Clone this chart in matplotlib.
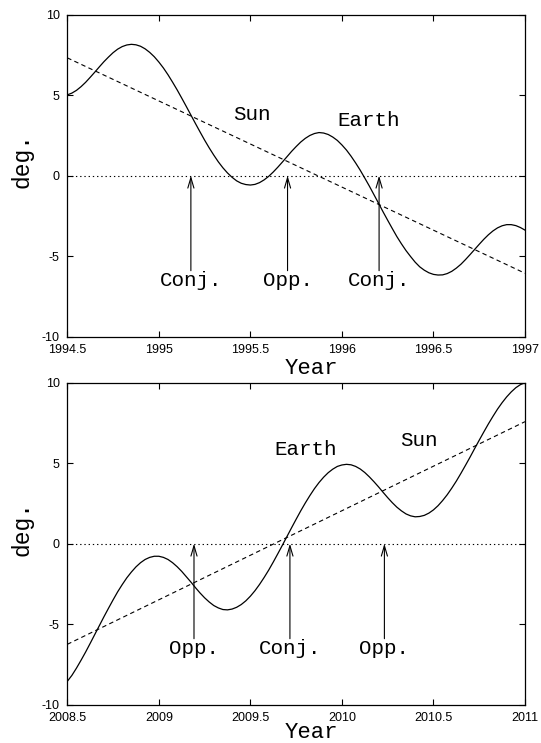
import matplotlib
matplotlib.use("Agg")
import matplotlib.pyplot as plt

# ---------------- data ----------------
top_years = [1994.500, 1994.525, 1994.550, 1994.575, 1994.600, 1994.625, 1994.650, 1994.675, 1994.700, 1994.725,
             1994.750, 1994.775, 1994.800, 1994.825, 1994.850, 1994.875, 1994.900, 1994.925, 1994.950, 1994.975,
             1995.000, 1995.025, 1995.050, 1995.075, 1995.100, 1995.125, 1995.150, 1995.175, 1995.200, 1995.225,
             1995.250, 1995.275, 1995.300, 1995.325, 1995.350, 1995.375, 1995.400, 1995.425, 1995.450, 1995.475,
             1995.500, 1995.525, 1995.550, 1995.575, 1995.600, 1995.625, 1995.650, 1995.675, 1995.700, 1995.725,
             1995.750, 1995.775, 1995.800, 1995.825, 1995.850, 1995.875, 1995.900, 1995.925, 1995.950, 1995.975,
             1996.000, 1996.025, 1996.050, 1996.075, 1996.100, 1996.125, 1996.150, 1996.175, 1996.200, 1996.225,
             1996.250, 1996.275, 1996.300, 1996.325, 1996.350, 1996.375, 1996.400, 1996.425, 1996.450, 1996.475,
             1996.500, 1996.525, 1996.550, 1996.575, 1996.600, 1996.625, 1996.650, 1996.675, 1996.700, 1996.725,
             1996.750, 1996.775, 1996.800, 1996.825, 1996.850, 1996.875, 1996.900, 1996.925, 1996.950, 1996.975,
             1997.000]
top_values = [5.02, 5.13, 5.30, 5.53, 5.80, 6.11, 6.43, 6.76, 7.08, 7.37,
              7.64, 7.86, 8.02, 8.12, 8.16, 8.13, 8.04, 7.88, 7.66, 7.39,
              7.06, 6.69, 6.27, 5.81, 5.33, 4.82, 4.30, 3.77, 3.24, 2.72,
              2.21, 1.73, 1.28, 0.86, 0.49, 0.17, -0.10, -0.32, -0.47, -0.55,
              -0.58, -0.54, -0.43, -0.26, -0.04, 0.23, 0.53, 0.85, 1.18, 1.51,
              1.81, 2.09, 2.32, 2.50, 2.62, 2.68, 2.65, 2.56, 2.40, 2.19,
              1.91, 1.59, 1.21, 0.79, 0.34, -0.15, -0.65, -1.18, -1.71, -2.25,
              -2.77, -3.28, -3.78, -4.23, -4.65, -5.02, -5.37, -5.66, -5.87, -6.03,
              -6.13, -6.17, -6.16, -6.08, -5.94, -5.74, -5.50, -5.21, -4.90, -4.58,
              -4.26, -3.95, -3.67, -3.43, -3.24, -3.11, -3.04, -3.04, -3.10, -3.22,
              -3.38]
top_trend_years = [1994.5, 1997.0]
top_trend_values = [7.32, -6.06]
top_event_years = [1995.175, 1995.703, 1996.203]
top_event_labels = ["Conj.", "Opp.", "Conj."]
top_body_years = [1995.511, 1996.146]
top_body_values = [3.44, 3.07]
top_body_labels = ["Sun", "Earth"]
top_xticks = [1994.5, 1995.0, 1995.5, 1996.0, 1996.5, 1997.0]
top_xticklabels = ["1994.5", "1995", "1995.5", "1996", "1996.5", "1997"]

bot_years = [2008.500, 2008.525, 2008.550, 2008.575, 2008.600, 2008.625, 2008.650, 2008.675, 2008.700, 2008.725,
             2008.750, 2008.775, 2008.800, 2008.825, 2008.850, 2008.875, 2008.900, 2008.925, 2008.950, 2008.975,
             2009.000, 2009.025, 2009.050, 2009.075, 2009.100, 2009.125, 2009.150, 2009.175, 2009.200, 2009.225,
             2009.250, 2009.275, 2009.300, 2009.325, 2009.350, 2009.375, 2009.400, 2009.425, 2009.450, 2009.475,
             2009.500, 2009.525, 2009.550, 2009.575, 2009.600, 2009.625, 2009.650, 2009.675, 2009.700, 2009.725,
             2009.750, 2009.775, 2009.800, 2009.825, 2009.850, 2009.875, 2009.900, 2009.925, 2009.950, 2009.975,
             2010.000, 2010.025, 2010.050, 2010.075, 2010.100, 2010.125, 2010.150, 2010.175, 2010.200, 2010.225,
             2010.250, 2010.275, 2010.300, 2010.325, 2010.350, 2010.375, 2010.400, 2010.425, 2010.450, 2010.475,
             2010.500, 2010.525, 2010.550, 2010.575, 2010.600, 2010.625, 2010.650, 2010.675, 2010.700, 2010.725,
             2010.750, 2010.775, 2010.800, 2010.825, 2010.850, 2010.875, 2010.900, 2010.925, 2010.950, 2010.975,
             2011.000]
bot_values = [-8.55, -8.18, -7.73, -7.24, -6.73, -6.19, -5.64, -5.09, -4.54, -4.01,
              -3.49, -2.99, -2.54, -2.12, -1.76, -1.44, -1.18, -0.98, -0.85, -0.78,
              -0.78, -0.85, -0.98, -1.18, -1.43, -1.72, -2.05, -2.38, -2.73, -3.06,
              -3.36, -3.62, -3.84, -3.99, -4.09, -4.11, -4.06, -3.95, -3.78, -3.55,
              -3.26, -2.92, -2.53, -2.10, -1.64, -1.14, -0.62, -0.09, 0.45, 0.99,
              1.52, 2.04, 2.53, 2.99, 3.42, 3.80, 4.13, 4.41, 4.63, 4.80,
              4.89, 4.93, 4.90, 4.80, 4.64, 4.42, 4.15, 3.85, 3.53, 3.19,
              2.86, 2.55, 2.27, 2.04, 1.85, 1.73, 1.67, 1.69, 1.76, 1.90,
              2.10, 2.36, 2.68, 3.04, 3.45, 3.89, 4.37, 4.87, 5.38, 5.91,
              6.43, 6.94, 7.44, 7.91, 8.36, 8.76, 9.12, 9.43, 9.69, 9.88,
              10.00]
bot_trend_years = [2008.5, 2011.0]
bot_trend_values = [-6.25, 7.58]
bot_event_years = [2009.192, 2009.716, 2010.232]
bot_event_labels = ["Opp.", "Conj.", "Opp."]
bot_body_years = [2009.80, 2010.42]
bot_body_values = [5.50, 6.07]
bot_body_labels = ["Earth", "Sun"]
bot_xticks = [2008.5, 2009.0, 2009.5, 2010.0, 2010.5, 2011.0]
bot_xticklabels = ["2008.5", "2009", "2009.5", "2010", "2010.5", "2011"]

yticks = [-10, -5, 0, 5, 10]
yticklabels = ["-10", "-5", "0", "5", "10"]

# ---------------- figure ----------------
W, H = 541, 743
fig = plt.figure(figsize=(W / 100, H / 100), dpi=100)
mono = ["Liberation Mono", "DejaVu Sans Mono"]
sans = ["Liberation Sans", "DejaVu Sans"]

ax_left = 67.3 / W
ax_w = (525.0 - 67.3) / W
ax_h = 322.0 / H
ax1 = fig.add_axes([ax_left, 1 - 336.7 / H, ax_w, ax_h])
ax2 = fig.add_axes([ax_left, 1 - 704.7 / H, ax_w, ax_h])


def draw(ax, yrs, vals, tyrs, tvals, eyrs, elabs, byrs, bvals, blabs, xt, xtl, xlim):
    ax.plot(yrs, vals, color="black", lw=0.9, solid_joinstyle="round")
    ax.plot(tyrs, tvals, color="black", lw=0.8, linestyle=(0, (4, 3)))
    ax.axhline(0, color="black", lw=0.8, linestyle=(0, (1.2, 2.6)))
    for x, lab in zip(eyrs, elabs):
        ax.annotate("", xy=(x, 0), xytext=(x, -5.9),
                    arrowprops=dict(arrowstyle="->,head_length=0.75,head_width=0.22",
                                    lw=0.8, color="black", shrinkA=0, shrinkB=0,
                                    mutation_scale=10))
        ax.text(x, -6.85, lab, ha="center", va="baseline", family=mono, fontsize=15)
    for x, y, lab in zip(byrs, bvals, blabs):
        ax.text(x, y, lab, ha="center", va="baseline", family=mono, fontsize=15)
    ax.set_xlim(*xlim)
    ax.set_ylim(-10, 10)
    ax.set_xticks(xt)
    ax.set_xticklabels(xtl, family=sans, fontsize=9)
    ax.set_yticks(yticks)
    ax.set_yticklabels(yticklabels, family=sans, fontsize=9)
    ax.tick_params(direction="in", length=4.5, width=0.8, top=True, right=True, pad=5.5)
    for s in ax.spines.values():
        s.set_linewidth(0.9)


draw(ax1, top_years, top_values, top_trend_years, top_trend_values,
     top_event_years, top_event_labels, top_body_years, top_body_values, top_body_labels,
     top_xticks, top_xticklabels, (1994.5, 1997.0))
draw(ax2, bot_years, bot_values, bot_trend_years, bot_trend_values,
     bot_event_years, bot_event_labels, bot_body_years, bot_body_values, bot_body_labels,
     bot_xticks, bot_xticklabels, (2008.5, 2011.0))

# axis titles
fig.text(311.7 / W, 1 - 374 / H, "Year", ha="center", va="baseline", family=mono, fontsize=16)
fig.text(311.7 / W, 1 - 738.5 / H, "Year", ha="center", va="baseline", family=mono, fontsize=16)
fig.text(22 / W, 1 - 161 / H, "deg.", ha="center", va="center", rotation=90, family=mono, fontsize=16.5)
fig.text(22 / W, 1 - 529 / H, "deg.", ha="center", va="center", rotation=90, family=mono, fontsize=16.5)

fig.savefig("out.png", dpi=100)
